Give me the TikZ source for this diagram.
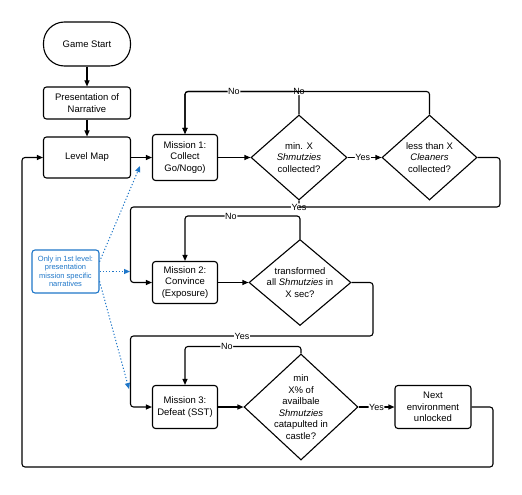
\documentclass[tikz,border=0pt]{standalone}
\usepackage{fontspec}
\setmainfont{Liberation Sans}
\usetikzlibrary{shapes.geometric,arrows.meta}
\definecolor{noteblue}{RGB}{30,118,200}

\begin{document}
\begin{tikzpicture}[x=1pt,y=-1pt,line width=1.1pt,
  font=\fontsize{9.5}{11.5}\selectfont,
  startbox/.style={draw,rounded corners=21pt,minimum width=87pt,minimum height=44pt},
  box/.style={draw,rounded corners=3pt,align=center,minimum width=65pt,minimum height=43pt,inner sep=1pt},
  decision/.style={draw,diamond,aspect=1.1,align=center,inner sep=-8pt},
  lbl/.style={fill=white,inner sep=0.6pt,font=\fontsize{9}{10}\selectfont},
  arr/.style={-{Triangle[length=6pt,width=5pt]},rounded corners=3pt},
  note/.style={draw=noteblue,text=noteblue,rounded corners=3pt,align=center,
    minimum width=67pt,minimum height=43pt,inner sep=1pt,font=\fontsize{7.5}{8.5}\selectfont},
  hint/.style={draw=noteblue,line width=1pt,dash pattern=on 1.2pt off 2pt,
    -{Triangle[length=6pt,width=5pt]}}]

  \useasboundingbox (0,0) rectangle (522,495);

  % ====================================================
  % START AND NARRATIVE
  % ====================================================
  \node[startbox] (start) at (87,44) {Game Start};
  \node[box,minimum width=87pt,minimum height=32pt] (pres) at (87,103) {Presentation of\\Narrative};
  \node[box,minimum width=87pt,minimum height=41pt] (map) at (87,157.5) {Level Map};

  \draw[arr] (start) -- (pres);
  \draw[arr] (pres) -- (map);

  % ====================================================
  % MISSION 1
  % ====================================================
  \node[box,minimum height=46pt] (m1) at (185,157.5) {Mission 1:\\Collect\\Go/Nogo)};
  \node[decision,minimum width=96pt,minimum height=85pt] (d1) at (299,157.5) {min. X\\\textit{Shmutzies}\\collected?};
  \node[decision,minimum width=95pt,minimum height=85pt] (d2) at (429.5,157.5) {less than X\\\textit{Cleaners}\\collected?};

  \draw[arr] (map) -- (m1);
  \draw[arr] (m1) -- (d1);
  \draw[arr] (d1) -- node[lbl,pos=.45]{Yes} (d2);
  \draw[arr] (d1.north) -- ++(0,-23) node[lbl]{No} -| (m1.north);
  \draw[arr] (d2.north) -- ++(0,-23) -| node[lbl,pos=.4]{No} (m1.north);

  % ====================================================
  % MISSION 2
  % ====================================================
  \coordinate (turnA) at (500,207);
  \coordinate (railA) at (130.5,207);
  \node[box,minimum height=42pt] (m2) at (185,282.5) {Mission 2:\\Convince\\(Exposure)};
  \node[decision,minimum width=102pt,minimum height=86pt] (d3) at (300,282.5) {transformed\\all \textit{Shmutzies} in\\X sec?};

  \draw[arr] (d1.south) |- node[lbl,pos=.5]{Yes} (railA) |- (m2.west);
  \draw[rounded corners=3pt] (d2.east) -| (turnA) -- (turnA -| d1.south);
  \draw[arr] (m2) -- (d3);
  \draw[arr] (d3.north) -- ++(0,-23) -| node[lbl,pos=.3]{No} (m2.north);

  % ====================================================
  % MISSION 3
  % ====================================================
  \coordinate (turnB) at (373,336);
  \coordinate (railB) at (130.5,336);
  \node[box] (m3) at (185,407) {Mission 3:\\Defeat (SST)};
  \node[decision,minimum width=114pt,minimum height=106pt] (d4) at (301,407) {min\\X\% of\\availbale\\\textit{Shmutzies}\\catapulted in\\castle?};
  \node[box,minimum width=76pt] (next) at (433,407) {Next\\environment\\unlocked};

  \draw[arr] (d3.east) -| (turnB) -- node[lbl,pos=.54]{Yes} (railB) |- (m3.west);
  \draw[arr] (m3) -- (d4);
  \draw[arr] (d4.north) -- ++(0,-7) -| node[lbl,pos=.32]{No} (m3.north);
  \draw[arr] (d4) -- node[lbl]{Yes} (next);

  % back to the level map
  \coordinate (turnC) at (493,467);
  \coordinate (railC) at (22,467);
  \draw[arr] (next.east) -| (turnC) -- (railC) |- (map.west);

  % ====================================================
  % NOTE
  % ====================================================
  \node[note] (note) at (65.5,271.5) {Only in 1st level:\\presentation\\mission specific\\narratives};
  \coordinate (hintA) at (140,166);
  \coordinate (hintB) at (130,271.5);
  \coordinate (hintC) at (129,389);
  \draw[hint] (note.16) -- (hintA);
  \draw[hint] (note.east) -- (hintB);
  \draw[hint] (note.-16) -- (hintC);
\end{tikzpicture}
\end{document}
